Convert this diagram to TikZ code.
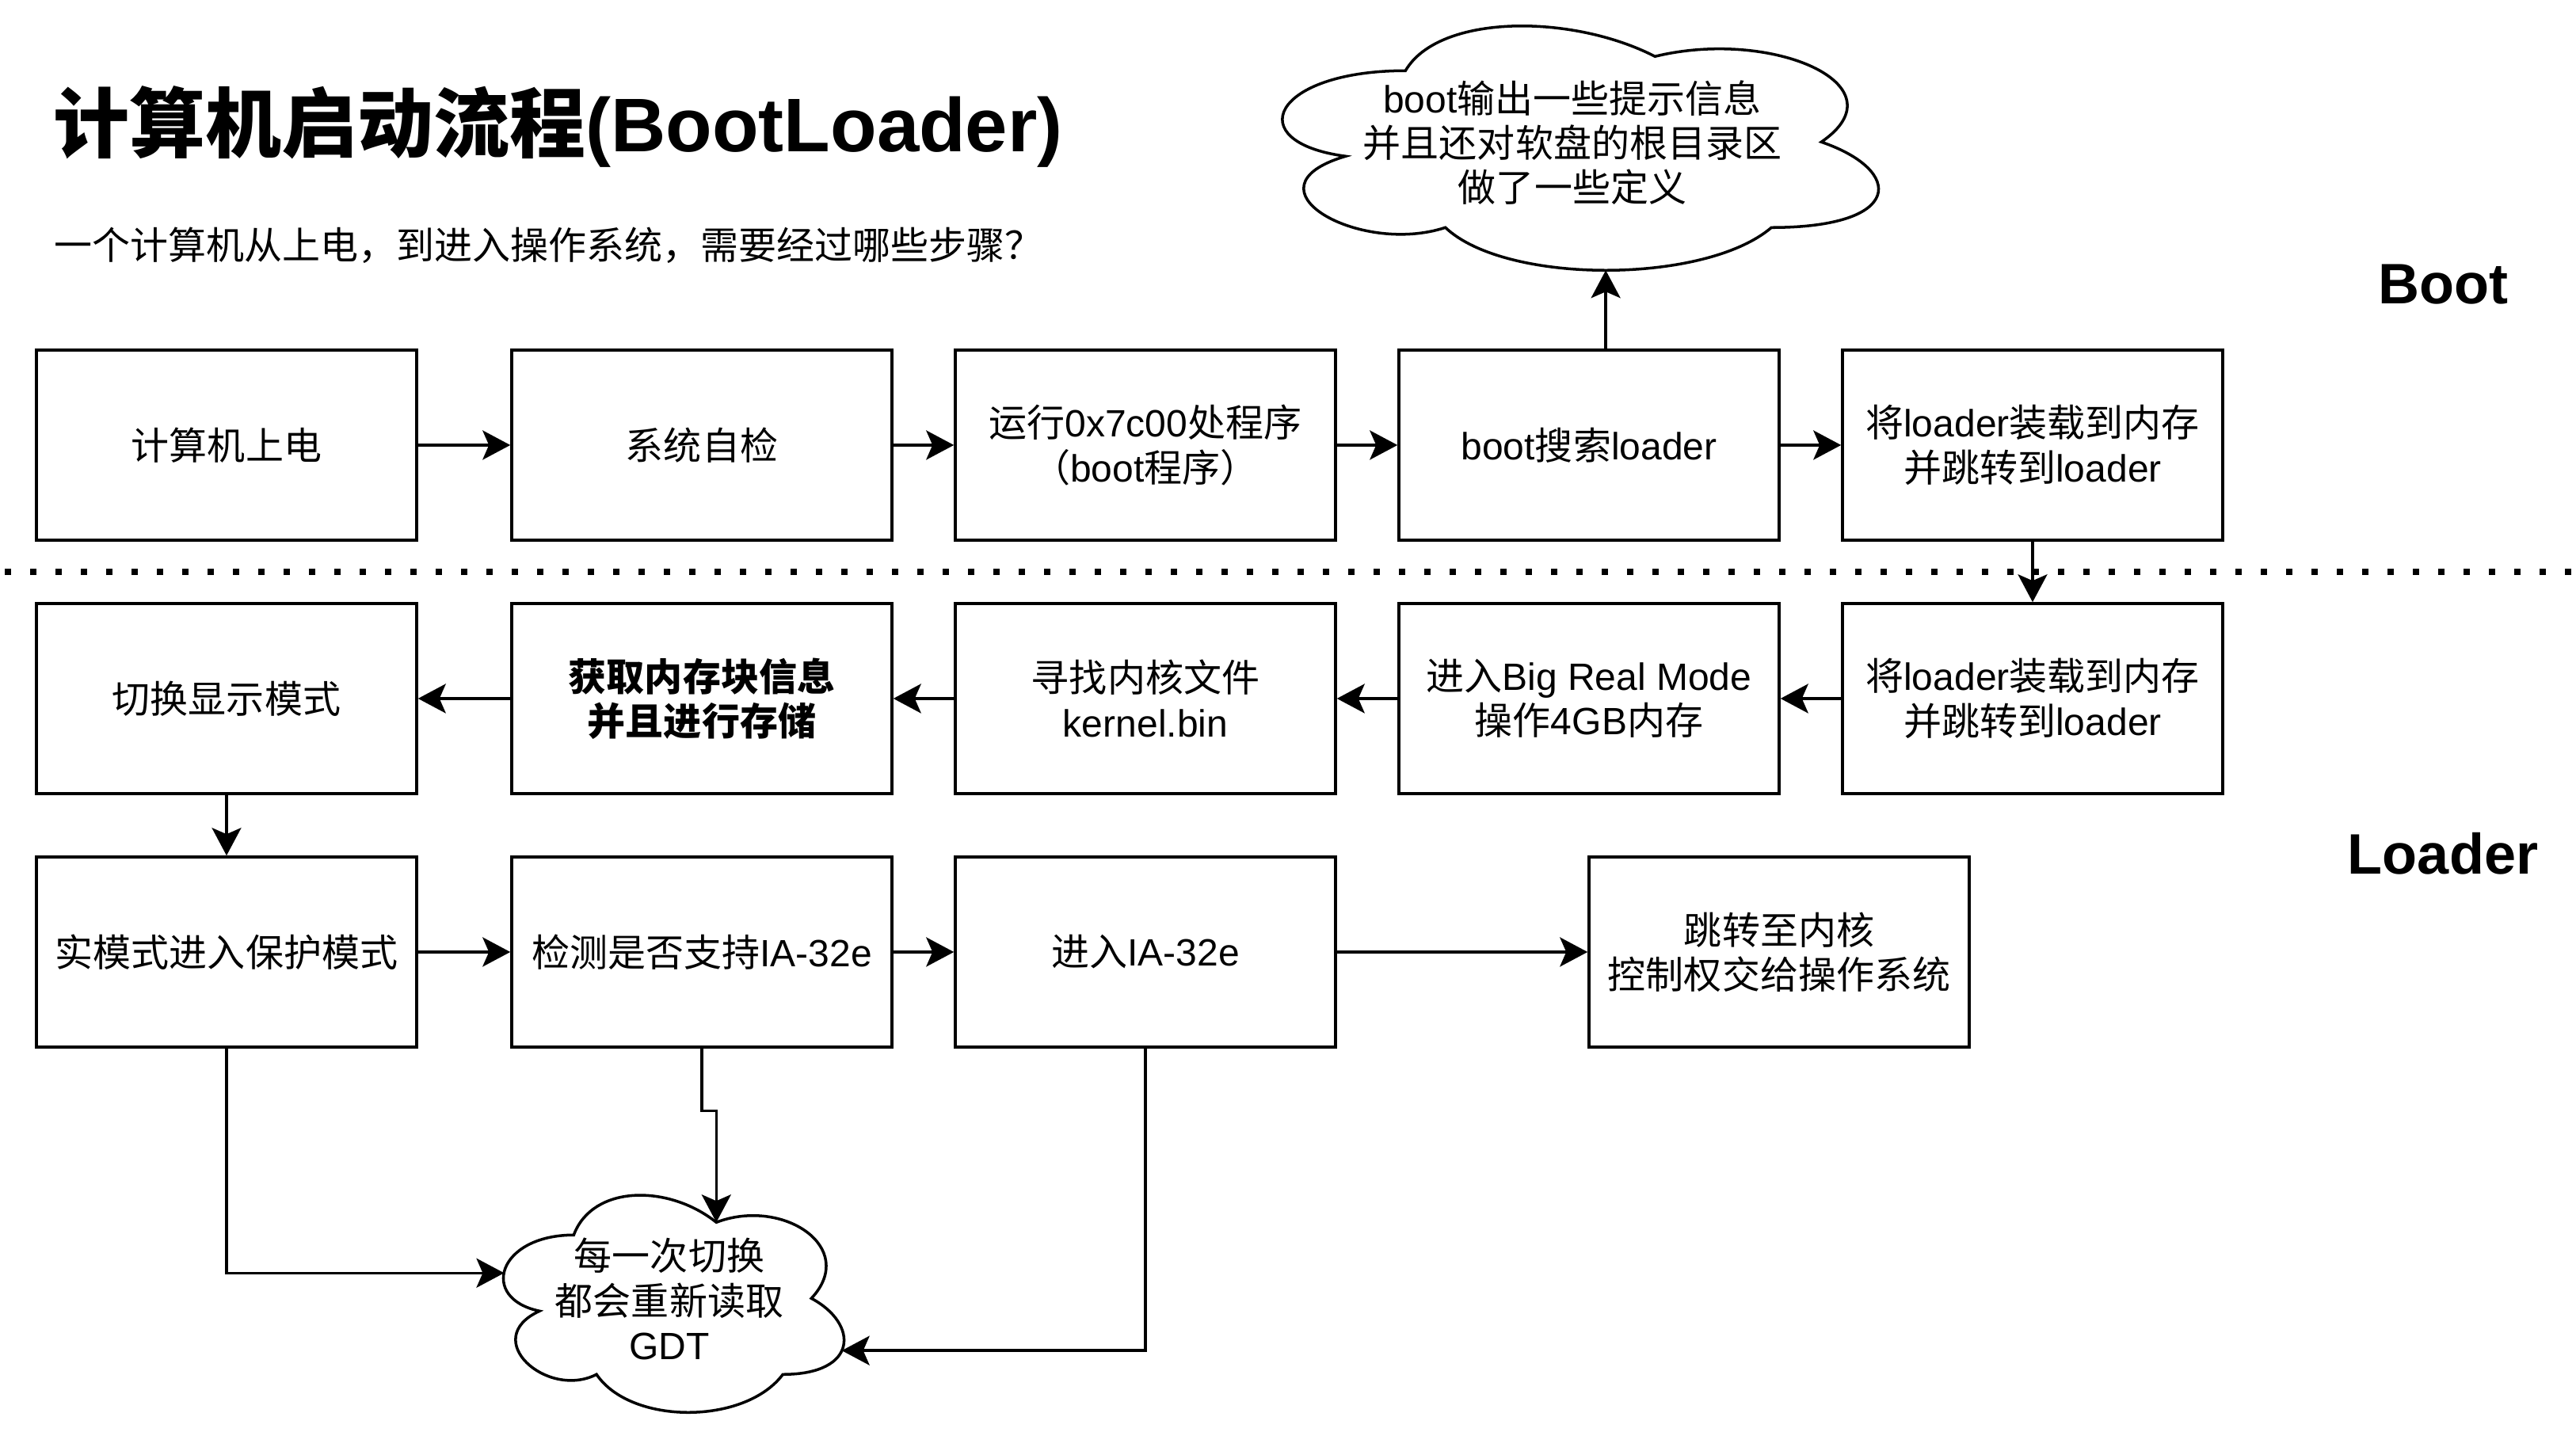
\documentclass[tikz,border=0pt]{standalone}
\usepackage{fontspec}
\setmainfont{Liberation Sans}
\newfontfamily\cjk{Noto Sans CJK SC}
\usetikzlibrary{arrows.meta}

\newcommand{\zh}[1]{{\cjk #1}}
\newcommand{\boxfont}{\fontsize{13.66pt}{16pt}\selectfont}
% cloud outline round a node: name, width, height
\newcommand{\drawcloud}[3]{%
  \begin{scope}[shift={(#1.north west)},x=#2,y=-#3]
    \draw[line width=1pt] (0.25,0.25) .. controls (0.05,0.25) and (0,0.5) .. (0.16,0.55)
      .. controls (0,0.66) and (0.18,0.9) .. (0.31,0.8)
      .. controls (0.4,1) and (0.7,1) .. (0.8,0.8)
      .. controls (1,0.8) and (1,0.6) .. (0.875,0.5)
      .. controls (1,0.3) and (0.8,0.1) .. (0.625,0.2)
      .. controls (0.5,0.05) and (0.3,0.05) .. (0.25,0.25) -- cycle;
    \coordinate (#1-n) at (0.625,0.2);
    \coordinate (#1-s) at (0.551,0.95);
    \coordinate (#1-w) at (0.067,0.40);
    \coordinate (#1-e) at (0.955,0.706);
  \end{scope}}

\tikzset{
  stepbox/.style={draw, line width=1pt, minimum width=4.8cm, minimum height=2.4cm,
    inner sep=0pt, align=center, font=\boxfont},
  cloudtxt/.style={inner sep=0pt, align=center, font=\boxfont},
  arr/.style={line width=1pt, -{Stealth[length=0.35cm,width=0.37cm,inset=0.08cm]}},
  phase/.style={font=\fontsize{20.5pt}{24pt}\selectfont\bfseries}
}

\begin{document}
\begin{tikzpicture}
\useasboundingbox (0,0) rectangle (32.52,18.08);

% title
\node[anchor=base west, inner sep=0pt, font=\fontsize{27.3pt}{31pt}\selectfont\bfseries] (title) at (0.67,16.16) {\zh{计算机启动流程}(BootLoader)};
\node[anchor=west, inner sep=0pt, font=\boxfont] (subtitle) at (0.68,14.98) {\zh{一个计算机从上电，到进入操作系统，需要经过哪些步骤？}};
\node[phase] (bootlbl) at (30.84,14.49) {Boot};
\node[phase] (loaderlbl) at (30.84,7.30) {Loader};

% boot / loader border
\draw[line width=2.28pt, dash pattern=on 0.08cm off 0.24cm] (0.06,10.86) -- (32.52,10.86);

% boot stage
\node[stepbox] (power) at (2.86,12.46) {\zh{计算机上电}};
\node[stepbox] (selftest) at (8.86,12.46) {\zh{系统自检}};
\node[stepbox] (runboot) at (14.46,12.46) {\zh{运行}0x7c00\zh{处程序}\\\zh{（}boot\zh{程序）}};
\node[stepbox] (search) at (20.06,12.46) {boot\zh{搜索}loader};
\node[stepbox] (loadldr) at (25.66,12.46) {\zh{将}loader\zh{装载到内存}\\\zh{并跳转到}loader};

\node[cloudtxt, minimum width=8.4cm, minimum height=3.6cm] (bootmsg) at (19.85,16.28) {boot\zh{输出一些提示信息}\\\zh{并且还对软盘的根目录区}\\\zh{做了一些定义}};
\drawcloud{bootmsg}{8.4cm}{3.6cm}

% loader stage
\node[stepbox] (ldrmem) at (25.66,9.26) {\zh{将}loader\zh{装载到内存}\\\zh{并跳转到}loader};
\node[stepbox] (bigreal) at (20.06,9.26) {\zh{进入}Big Real Mode\\\zh{操作}4GB\zh{内存}};
\node[stepbox] (findkernel) at (14.46,9.26) {\zh{寻找内核文件}\\kernel.bin};
\node[stepbox, font=\boxfont\bfseries] (meminfo) at (8.86,9.26) {\zh{获取内存块信息}\\\zh{并且进行存储}};
\node[stepbox] (display) at (2.86,9.26) {\zh{切换显示模式}};

\node[stepbox] (protect) at (2.86,6.06) {\zh{实模式进入保护模式}};
\node[stepbox] (check) at (8.86,6.06) {\zh{检测是否支持}IA-32e};
\node[stepbox] (ia32e) at (14.46,6.06) {\zh{进入}IA-32e};
\node[stepbox] (tokernel) at (22.46,6.06) {\zh{跳转至内核}\\\zh{控制权交给操作系统}};

\node[cloudtxt, minimum width=4.8cm, minimum height=3.2cm] (gdt) at (8.45,1.68) {\zh{每一次切换}\\\zh{都会重新读取}\\GDT};
\drawcloud{gdt}{4.8cm}{3.2cm}

% connectors
\draw[arr] (power) -- (selftest);
\draw[arr] (selftest) -- (runboot);
\draw[arr] (runboot) -- (search);
\draw[arr] (search) -- (loadldr);
\draw[arr] (search.north -| bootmsg-s) -- (bootmsg-s);
\draw[arr] (loadldr) -- (ldrmem);
\draw[arr] (ldrmem) -- (bigreal);
\draw[arr] (bigreal) -- (findkernel);
\draw[arr] (findkernel) -- (meminfo);
\draw[arr] (meminfo) -- (display);
\draw[arr] (display) -- (protect);
\draw[arr] (protect) -- (check);
\draw[arr] (check) -- (ia32e);
\draw[arr] (ia32e) -- (tokernel);

\draw[arr] (protect.south) |- (gdt-w);
\draw[arr] (check.south) -- ++(0,-0.79) -| (gdt-n);
\draw[arr] (ia32e.south) |- (gdt-e);
\end{tikzpicture}
\end{document}
